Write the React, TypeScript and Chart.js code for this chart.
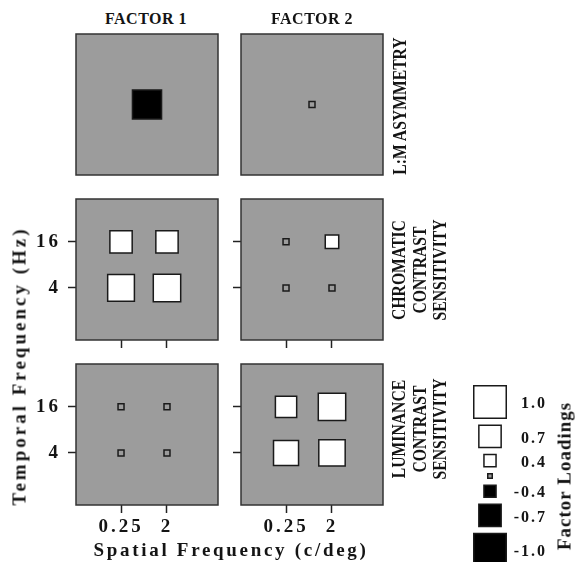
import React, { useEffect, useRef } from 'react';
import { Chart, registerables } from 'chart.js';

Chart.register(...registerables);

// ---------------- data ----------------
const factorTitles = ['FACTOR 1', 'FACTOR 2'];
const rowTitles = [
  ['L:M ASYMMETRY'],
  ['CHROMATIC', 'CONTRAST', 'SENSITIVITY'],
  ['LUMINANCE', 'CONTRAST', 'SENSITIVITY'],
];
const spatialLabels = ['0.25', '2'];
const temporalLabels = ['4', '16'];
// single measure: [factor 1, factor 2]
const lmAsymmetry = [-0.9, 0.22];
// cell order: [4 Hz/0.25, 4 Hz/2, 16 Hz/0.25, 16 Hz/2]
const chromaticF1 = [0.83, 0.85, 0.7, 0.7];
const chromaticF2 = [0.22, 0.22, 0.22, 0.44];
const luminanceF1 = [0.22, 0.22, 0.22, 0.22];
const luminanceF2 = [0.78, 0.82, 0.67, 0.85];
const legendValues = [1.0, 0.7, 0.4, 0.15, -0.4, -0.7, -1.0];
const legendLabels = ['1.0', '0.7', '0.4', '', '-0.4', '-0.7', '-1.0'];
const xAxisTitle = 'Spatial Frequency (c/deg)';
const yAxisTitle = 'Temporal Frequency (Hz)';
const legendTitle = 'Factor Loadings';

// ---------------- style / layout ----------------
const SERIF = '"Liberation Serif", "Times New Roman", serif';
const PANEL_GREY = '#9c9c9c';
const INK = '#141414';
const PX_PER_UNIT = 34;
const MIN_SIDE = 6;
const BORDER_W = 1.5;

const COL_LEFT = [76, 241];
const ROW_TOP = [34, 199, 364];
const PW = 142;
const PH = 141;
const ML = 62;
const MT = 4;
const MR = 4;
const MB = 46;

const outerSide = (v: number) => Math.max(Math.abs(v) * PX_PER_UNIT, MIN_SIDE);
const fillOf = (v: number) => (v < 0 ? '#000000' : Math.abs(v) < 0.3 ? PANEL_GREY : '#ffffff');

const gridCells = (vals: number[]) =>
  vals.map((v, i) => ({ x: (i % 2) + 1, y: Math.floor(i / 2) + 1, v }));

const pointDataset = (data: any[]) => ({
  data,
  pointStyle: 'rect',
  pointRadius: (c: any) => (outerSide(c.raw.v) - BORDER_W) / Math.SQRT2,
  pointHoverRadius: (c: any) => (outerSide(c.raw.v) - BORDER_W) / Math.SQRT2,
  pointBackgroundColor: (c: any) => fillOf(c.raw.v),
  pointBorderColor: '#1a1a1a',
  pointBorderWidth: BORDER_W,
  pointHoverBorderWidth: BORDER_W,
});

const zeroPadding = (s: any) => {
  s.paddingTop = 0;
  s.paddingBottom = 0;
  s.paddingLeft = 0;
  s.paddingRight = 0;
};

const panelPlugin = {
  id: 'panelFrame',
  beforeDraw(chart: any) {
    const { ctx, chartArea: a } = chart;
    ctx.letterSpacing = '3px';
    ctx.save();
    ctx.fillStyle = PANEL_GREY;
    ctx.fillRect(a.left, a.top, a.right - a.left, a.bottom - a.top);
    ctx.restore();
  },
  afterDatasetsDraw(chart: any) {
    const { ctx, chartArea: a } = chart;
    ctx.save();
    ctx.strokeStyle = '#333333';
    ctx.lineWidth = 1.5;
    ctx.strokeRect(a.left, a.top, a.right - a.left, a.bottom - a.top);
    ctx.restore();
  },
};

type PanelProps = {
  left: number;
  top: number;
  cells: { x: number; y: number; v: number }[];
  single: boolean;
  showXTicks: boolean;
  showXLabels: boolean;
  showYTicks: boolean;
  showYLabels: boolean;
};

function Panel(p: PanelProps) {
  const ref = useRef<HTMLCanvasElement>(null);
  const W = ML + PW + MR;
  const H = MT + PH + MB;
  useEffect(() => {
    const tickFont = { family: SERIF, size: 19, weight: 'bold' as const };
    const chart = new Chart(ref.current!, {
      type: 'scatter',
      data: { datasets: [pointDataset(p.cells) as any] },
      options: {
        animation: false,
        responsive: false,
        events: [],
        layout: { autoPadding: false, padding: { left: 0, top: MT, right: MR, bottom: 0 } },
        plugins: { legend: { display: false }, tooltip: { enabled: false } },
        scales: {
          x: {
            type: 'linear',
            min: p.single ? 0 : 0.02,
            max: p.single ? 2 : 3.11,
            afterBuildTicks: (s: any) => {
              s.ticks = p.showXTicks ? spatialLabels.map((_, i) => ({ value: i + 1 })) : [];
            },
            afterFit: (s: any) => {
              s.height = MB;
              zeroPadding(s);
            },
            ticks: {
              display: p.showXLabels,
              autoSkip: false,
              maxRotation: 0,
              padding: 3,
              color: INK,
              font: tickFont,
              callback: (v: any) => spatialLabels[Number(v) - 1] ?? '',
            },
            grid: {
              drawOnChartArea: false,
              drawTicks: p.showXTicks,
              tickLength: 8,
              tickColor: '#222222',
              tickWidth: 1.5,
            },
            border: { display: false },
          },
          y: {
            type: 'linear',
            min: p.single ? 0 : -0.13,
            max: p.single ? 2 : 2.93,
            afterBuildTicks: (s: any) => {
              s.ticks = p.showYTicks ? temporalLabels.map((_, i) => ({ value: i + 1 })) : [];
            },
            afterFit: (s: any) => {
              s.width = ML;
              zeroPadding(s);
            },
            ticks: {
              display: p.showYLabels,
              autoSkip: false,
              padding: 7,
              color: INK,
              font: tickFont,
              callback: (v: any) => temporalLabels[Number(v) - 1] ?? '',
            },
            grid: {
              drawOnChartArea: false,
              drawTicks: p.showYTicks,
              tickLength: 8,
              tickColor: '#222222',
              tickWidth: 1.5,
            },
            border: { display: false },
          },
        },
      },
      plugins: [panelPlugin],
    });
    return () => chart.destroy();
  }, []);
  return (
    <canvas
      ref={ref}
      width={W}
      height={H}
      style={{ position: 'absolute', left: p.left - ML, top: p.top - MT, width: W, height: H }}
    />
  );
}

// ---------------- legend (Chart.js) ----------------
const LEG_LEFT = 456;
const LEG_TOP = 375;
const LEG_W = 100;
const LEG_H = 187;
const LEG_FIRST = 10 / PX_PER_UNIT;
const LEG_GAP = 5.5 / PX_PER_UNIT;

function LegendChart() {
  const ref = useRef<HTMLCanvasElement>(null);
  useEffect(() => {
    let acc = LEG_FIRST;
    const pts = legendValues.map((v) => {
      const s = outerSide(v) / PX_PER_UNIT;
      const y = acc + s / 2;
      acc += s + LEG_GAP;
      return { x: 0, y, v };
    });
    const labelPlugin = {
      id: 'legendLabels',
      afterDatasetsDraw(chart: any) {
        const { ctx } = chart;
        const meta = chart.getDatasetMeta(0);
        ctx.save();
        ctx.letterSpacing = '2px';
        ctx.font = `bold 16px ${SERIF}`;
        ctx.fillStyle = INK;
        ctx.textAlign = 'right';
        ctx.textBaseline = 'middle';
        meta.data.forEach((el: any, i: number) => {
          if (legendLabels[i]) ctx.fillText(legendLabels[i], el.x + 57, el.y + 2);
        });
        ctx.restore();
      },
    };
    const chart = new Chart(ref.current!, {
      type: 'scatter',
      data: { datasets: [{ ...(pointDataset(pts) as any), clip: false }] },
      options: {
        animation: false,
        responsive: false,
        events: [],
        layout: { autoPadding: false, padding: 0 },
        plugins: { legend: { display: false }, tooltip: { enabled: false } },
        scales: {
          x: { type: 'linear', display: false, min: -1, max: LEG_W / PX_PER_UNIT - 1 },
          y: { type: 'linear', display: false, reverse: true, min: 0, max: LEG_H / PX_PER_UNIT },
        },
      },
      plugins: [labelPlugin],
    });
    return () => chart.destroy();
  }, []);
  return (
    <canvas
      ref={ref}
      width={LEG_W}
      height={LEG_H}
      style={{ position: 'absolute', left: LEG_LEFT, top: LEG_TOP, width: LEG_W, height: LEG_H }}
    />
  );
}

// ---------------- text helpers ----------------
function Label(props: {
  cx: number;
  cy: number;
  lines: string[];
  size: number;
  spacing?: number;
  rotate?: boolean;
  sx?: number;
  lineH?: number;
}) {
  const { cx, cy, lines, size, spacing = 0, rotate = false, sx = 1, lineH = size } = props;
  return (
    <div
      style={{
        position: 'absolute',
        left: cx,
        top: cy,
        transform: `translate(-50%, -50%)${rotate ? ' rotate(-90deg)' : ''} scale(${sx}, 1)`,
        fontFamily: SERIF,
        fontWeight: 'bold',
        fontSize: size,
        lineHeight: `${lineH}px`,
        letterSpacing: spacing,
        color: INK,
        whiteSpace: 'nowrap',
        textAlign: 'center',
      }}
    >
      {lines.map((l, i) => (
        <div key={i}>{l}</div>
      ))}
    </div>
  );
}

export default function App() {
  const rows = [
    [lmAsymmetry[0], lmAsymmetry[1]],
    [chromaticF1, chromaticF2],
    [luminanceF1, luminanceF2],
  ];
  const rowLabelCy = [106, 270, 429];
  const rowLabelCx = [400, 420, 420];
  return (
    <div
      style={{
        position: 'absolute',
        left: 0,
        top: 0,
        width: 575,
        height: 562,
        background: '#ffffff',
        overflow: 'hidden',
      }}
    >
      {rows.map((row, r) =>
        row.map((vals: any, c: number) => (
          <Panel
            key={`${r}-${c}`}
            left={COL_LEFT[c]}
            top={ROW_TOP[r]}
            single={r === 0}
            cells={r === 0 ? [{ x: 1, y: 1, v: vals as number }] : gridCells(vals as number[])}
            showXTicks={r > 0}
            showXLabels={r === 2}
            showYTicks={r > 0}
            showYLabels={r > 0 && c === 0}
          />
        ))
      )}
      <LegendChart />
      <Label cx={146} cy={19} lines={[factorTitles[0]]} size={16} spacing={0.5} />
      <Label cx={312} cy={19} lines={[factorTitles[1]]} size={16} spacing={0.5} />
      {rowTitles.map((t, r) => (
        <Label
          key={r}
          cx={rowLabelCx[r]}
          cy={rowLabelCy[r]}
          lines={t}
          size={18}
          rotate
          sx={0.87}
          lineH={20.5}
        />
      ))}
      <Label cx={19} cy={366} lines={[yAxisTitle]} size={19} spacing={3} rotate />
      <Label cx={231} cy={549} lines={[xAxisTitle]} size={19} spacing={2.7} />
      <Label cx={564} cy={476} lines={[legendTitle]} size={19} spacing={1} rotate />
    </div>
  );
}
